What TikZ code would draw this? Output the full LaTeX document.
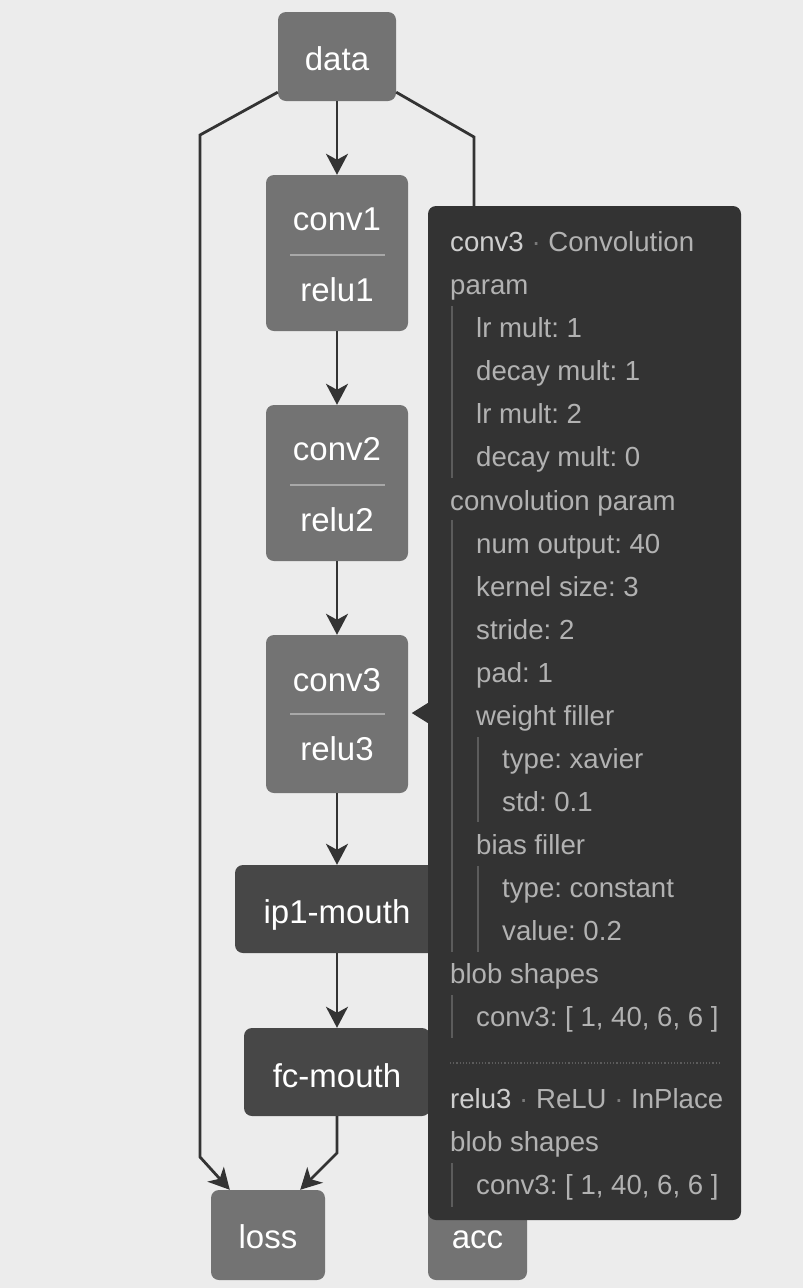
\documentclass[tikz,border=0pt]{standalone}
\usepackage{fontspec}
\setmainfont{Liberation Sans}
\usetikzlibrary{arrows.meta}
\definecolor{bg}{HTML}{ECECEC}
\definecolor{nodegray}{HTML}{737373}
\definecolor{nodedark}{HTML}{474747}
\definecolor{edgec}{HTML}{333333}
\definecolor{tipc}{HTML}{333333}
\definecolor{tipfg}{HTML}{B2B2B2}
\definecolor{tiphi}{HTML}{CFCFCF}
\definecolor{tipdot}{HTML}{7A7A7A}
\definecolor{tipbar}{HTML}{5C5C5C}
\definecolor{sepc}{HTML}{A8A8A8}
\frenchspacing
\begin{document}
\begin{tikzpicture}[x=1pt,y=-1pt,
  box/.style={draw=none, rounded corners=8pt, inner sep=0pt},
  lightbox/.style={box, fill=nodegray},
  darkbox/.style={box, fill=nodedark},
  tipbox/.style={box, fill=tipc},
  ntext/.style={text=white, font=\fontsize{33}{36}\selectfont, anchor=base, inner sep=0pt},
  edge/.style={draw=edgec, line width=2.8pt, -{Stealth[length=21pt,width=22pt,inset=6pt]}},
  sepline/.style={draw=sepc, line width=1.5pt},
  ttext/.style={text=tipfg, font=\fontsize{27.6}{32}\selectfont, anchor=base west, inner sep=0pt},
  tbar/.style={draw=tipbar, line width=1.5pt},
]
\useasboundingbox[fill=bg] (0,0) rectangle (803,1288);

% layer nodes
\node[lightbox, minimum width=118pt, minimum height=89pt] (data) at (337,56.5) {};
\node[lightbox, minimum width=142pt, minimum height=156pt] (conv1) at (337,253) {};
\node[lightbox, minimum width=142pt, minimum height=156pt] (conv2) at (337,483) {};
\node[lightbox, minimum width=142pt, minimum height=158pt] (conv3) at (337,714) {};
\node[darkbox, minimum width=204pt, minimum height=88pt] (ip1) at (337,909) {};
\node[darkbox, minimum width=186pt, minimum height=88pt] (fc) at (337,1072) {};
\node[lightbox, minimum width=114pt, minimum height=90pt] (loss) at (268,1235) {};
\node[lightbox, minimum width=99pt, minimum height=90pt] (acc) at (477.5,1235) {};

% labels
\node[ntext] (ldata) at (337,70) {data};
\node[ntext] (lconv1) at (337,230) {conv1};
\node[ntext] (lrelu1) at (337,301) {relu1};
\node[ntext] (lconv2) at (337,460) {conv2};
\node[ntext] (lrelu2) at (337,531) {relu2};
\node[ntext] (lconv3) at (337,691) {conv3};
\node[ntext] (lrelu3) at (337,760) {relu3};
\node[ntext] (lip1) at (337,923) {ip1-mouth};
\node[ntext] (lfc) at (337,1087) {fc-mouth};
\node[ntext] (lloss) at (268,1248) {loss};
\node[ntext] (lacc) at (477.5,1248) {acc};

\draw[sepline] (290,255) -- (385,255);
\draw[sepline] (290,485) -- (385,485);
\draw[sepline] (290,714) -- (385,714);

% edges
\draw[edge] (data) -- (conv1);
\draw[edge] (conv1) -- (conv2);
\draw[edge] (conv2) -- (conv3);
\draw[edge] (conv3) -- (ip1);
\draw[edge] (ip1) -- (fc);
\coordinate (lb1) at (200,135);
\coordinate (lb2) at (200,1157);
\coordinate (rb1) at (474,137);
\coordinate (rb2) at (474,1157);
\coordinate (fb) at (337,1153);
\draw[edge] ([yshift=9pt]data.south west) -- (lb1) -- (lb2) -- ([xshift=19pt]loss.north west);
\draw[edge] (fc.south) -- (fb) -- ([xshift=-25pt]loss.north east);
\draw[edge] ([yshift=9pt]data.south east) -- (rb1) -- (rb2) -- (acc.north);

% tooltip
\node[tipbox, minimum width=313pt, minimum height=1014pt] (tip) at (584.5,713) {};
\fill[tipc] (tip.west) ++(0,-10) -- ++(-16,10) -- ++(16,10) -- cycle;

\node[ttext] (t0) at (450,251) {{\color{tiphi}conv3} {\color{tipdot}·} Convolution};
\node[ttext] (t1) at (450,294) {param};
\node[ttext] (t2) at (476,337) {lr mult: 1};
\node[ttext] (t3) at (476,380) {decay mult: 1};
\node[ttext] (t4) at (476,423) {lr mult: 2};
\node[ttext] (t5) at (476,466) {decay mult: 0};
\node[ttext] (t6) at (450,510) {convolution param};
\node[ttext] (t7) at (476,553) {num output: 40};
\node[ttext] (t8) at (476,596) {kernel size: 3};
\node[ttext] (t9) at (476,639) {stride: 2};
\node[ttext] (t10) at (476,682) {pad: 1};
\node[ttext] (t11) at (476,725) {weight filler};
\node[ttext] (t12) at (502,768) {type: xavier};
\node[ttext] (t13) at (502,811) {std: 0.1};
\node[ttext] (t14) at (476,854) {bias filler};
\node[ttext] (t15) at (502,897) {type: constant};
\node[ttext] (t16) at (502,940) {value: 0.2};
\node[ttext] (t17) at (450,983) {blob shapes};
\node[ttext] (t18) at (476,1026) {conv3: [ 1, 40, 6, 6 ]};
\node[ttext] (t19) at (450,1108) {{\color{tiphi}relu3} {\color{tipdot}·} ReLU {\color{tipdot}·} InPlace};
\node[ttext] (t20) at (450,1151) {blob shapes};
\node[ttext] (t21) at (476,1194) {conv3: [ 1, 40, 6, 6 ]};

\draw[tbar] (452,306) -- (452,478);
\draw[tbar] (452,520) -- (452,952);
\draw[tbar] (478,737) -- (478,822);
\draw[tbar] (478,866) -- (478,952);
\draw[tbar] (452,995) -- (452,1038);
\draw[tbar] (452,1163) -- (452,1207);
\draw[draw=tipbar, line width=1.2pt, dotted] (450,1063) -- (719,1063);
\end{tikzpicture}
\end{document}
